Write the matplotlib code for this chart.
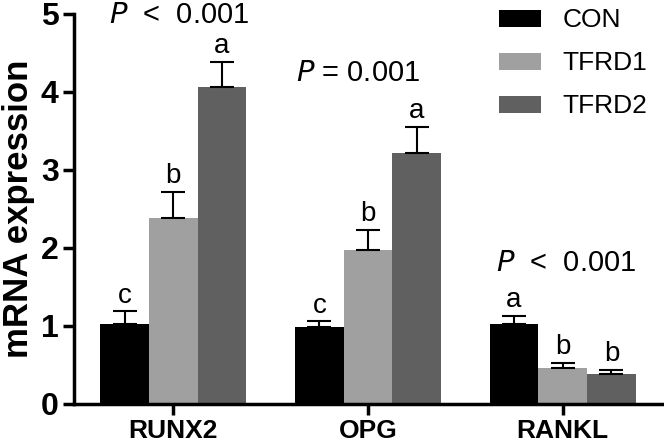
import numpy as np
import matplotlib
matplotlib.use("Agg")
import matplotlib.pyplot as plt

plt.rcParams['font.family'] = ['Liberation Sans', 'DejaVu Sans']

genes = ["RUNX2", "OPG", "RANKL"]
groups = ["CON", "TFRD1", "TFRD2"]
colors = ["#000000", "#a0a0a0", "#606060"]

con = [1.03, 0.99, 1.02]
con_err = [0.16, 0.07, 0.11]
tfrd1 = [2.38, 1.97, 0.46]
tfrd1_err = [0.34, 0.26, 0.07]
tfrd2 = [4.06, 3.22, 0.38]
tfrd2_err = [0.33, 0.33, 0.06]

letters = [["c", "b", "a"], ["c", "b", "a"], ["a", "b", "b"]]
p_texts = [" <  0.001", "= 0.001", " <  0.001"]
p_pos = [(0.03, 4.99), (-0.05, 4.24), (0.02, 1.81)]

fig = plt.figure(figsize=(6.64, 4.47), dpi=100)
ax = fig.add_axes([0.1114, 0.0962, 0.8886, 0.8725])

x = np.arange(len(genes))
w = 0.25
means = [con, tfrd1, tfrd2]
errs = [con_err, tfrd1_err, tfrd2_err]
for i in range(3):
    xs = x + (i - 1) * w
    ax.bar(xs, means[i], w, color=colors[i], label=groups[i], zorder=2)
    ax.errorbar(xs, means[i], yerr=[np.zeros(3), errs[i]], fmt='none',
                ecolor='black', elinewidth=1.5, capsize=8.6, capthick=1.5, zorder=3)
    for j in range(3):
        ax.text(xs[j], means[i][j] + errs[i][j] + 0.2, letters[j][i],
                ha='center', va='center', fontsize=20)

for j in range(3):
    px, py = p_pos[j]
    ax.text(x[j] + px, py, r"$\mathit{P}$ " + p_texts[j], ha='center', va='center',
            fontsize=21, clip_on=False)

ax.set_xlim(-0.51, 2.52)
ax.set_ylim(0, 5)
ax.set_yticks([0, 1, 2, 3, 4, 5])
ax.set_xticks(x)
ax.set_xticklabels(genes, fontsize=19, fontweight='bold')
for lab in ax.get_yticklabels():
    lab.set_fontsize(23)
    lab.set_fontweight('bold')
ax.set_ylabel("mRNA expression", fontsize=25, fontweight='bold', labelpad=4)

ax.spines[['right', 'top']].set_visible(False)
ax.spines['left'].set_linewidth(2.5)
ax.spines['bottom'].set_linewidth(2.5)
ax.tick_params(axis='both', width=2.5, length=8, direction='out', pad=3)

ax.legend(loc='upper left', bbox_to_anchor=(0.68, 1.075), frameon=False,
          fontsize=19, handlelength=1.6, handleheight=0.6, labelspacing=0.72,
          handletextpad=0.8)

plt.savefig("out.png", dpi=100)
